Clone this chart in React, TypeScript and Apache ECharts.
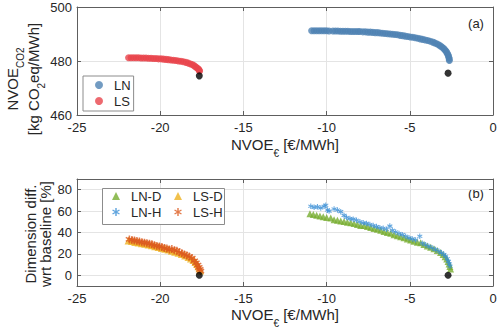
import React, { useEffect, useRef } from 'react';
import * as echarts from 'echarts';

// ---------- data ----------
const xTickStep = 5;
const xRange = [-25, 0];
const yRangeTop = [460, 500];
const yRangeBottom = [-10, 90];

const lnTop: [number, number][] = [
  [-10.9, 491.2], [-10.75, 491.2], [-10.6, 491.2], [-10.45, 491.2], [-10.3, 491.2], [-10.15, 491.2], [-10.0, 491.2], [-9.85, 491.1],
  [-9.62, 491.1], [-9.47, 491.1], [-9.32, 491.1], [-9.17, 491.0], [-9.02, 491.0], [-8.87, 491.0], [-8.72, 491.0], [-8.57, 490.9], [-8.42, 490.9], [-8.27, 490.9], [-8.12, 490.9], [-8.0, 490.9],
  [-7.82, 490.8], [-7.67, 490.8], [-7.52, 490.7], [-7.37, 490.7], [-7.22, 490.6], [-7.07, 490.5], [-6.92, 490.5], [-6.77, 490.4], [-6.62, 490.3], [-6.47, 490.2],
  [-6.32, 490.1], [-6.17, 490.0], [-6.02, 489.9], [-5.87, 489.8], [-5.72, 489.7], [-5.57, 489.5], [-5.42, 489.4], [-5.27, 489.2], [-5.12, 489.1], [-4.97, 488.9],
  [-4.82, 488.8], [-4.67, 488.6], [-4.52, 488.4], [-4.37, 488.2], [-4.22, 488.0], [-4.07, 487.8], [-3.92, 487.6], [-3.77, 487.3], [-3.62, 487.0], [-3.5, 486.7],
  [-3.38, 486.4], [-3.27, 486.0], [-3.17, 485.6], [-3.07, 485.2], [-2.98, 484.7], [-2.9, 484.2], [-2.83, 483.7], [-2.77, 483.1], [-2.72, 482.5], [-2.68, 481.9],
  [-2.65, 481.3], [-2.63, 480.7], [-2.62, 480.2],
];

const lsTop: [number, number][] = [
  [-21.9, 481.2], [-21.75, 481.2], [-21.6, 481.2], [-21.45, 481.2], [-21.3, 481.2], [-21.15, 481.1], [-21.0, 481.1], [-20.85, 481.1], [-20.7, 481.0], [-20.55, 481.0],
  [-20.4, 480.9], [-20.25, 480.9], [-20.1, 480.8], [-19.95, 480.8], [-19.8, 480.7], [-19.65, 480.6], [-19.5, 480.5], [-19.35, 480.4], [-19.2, 480.3], [-19.05, 480.2],
  [-18.9, 480.0], [-18.75, 479.9], [-18.6, 479.7], [-18.45, 479.5], [-18.3, 479.2], [-18.17, 478.9], [-18.05, 478.6], [-17.95, 478.2], [-17.86, 477.8], [-17.78, 477.4],
  [-17.7, 477.0], [-17.66, 476.6], [-17.63, 476.3],
];

const baseTop: [number, number][] = [[-2.7, 475.5], [-17.65, 474.5]];

const lnD: [number, number][] = [
  [-11.0, 57.5], [-10.8, 56.8], [-10.6, 56.2], [-10.4, 55.5], [-10.2, 54.8], [-10.0, 54.0], [-9.75, 53.5], [-9.55, 52.0], [-9.35, 51.4], [-9.15, 50.8],
  [-8.95, 50.2], [-8.75, 49.6], [-8.55, 49.0], [-8.35, 48.3], [-8.15, 47.5], [-7.95, 46.6], [-7.75, 46.5], [-7.55, 45.5], [-7.35, 44.6], [-7.15, 43.8],
  [-6.95, 43.0], [-6.75, 42.0], [-6.55, 41.0], [-6.35, 40.0], [-6.15, 39.2], [-5.95, 38.0], [-5.75, 37.0], [-5.55, 36.0], [-5.35, 35.0], [-5.15, 34.0],
  [-4.95, 33.0], [-4.75, 31.8], [-4.55, 30.8], [-4.35, 30.4], [-4.15, 28.8], [-3.95, 27.5], [-3.75, 26.2], [-3.55, 24.8], [-3.35, 23.2], [-3.15, 21.2],
  [-3.0, 19.5], [-2.88, 17.4], [-2.78, 15.2], [-2.7, 13.0], [-2.64, 10.6], [-2.59, 8.2], [-2.55, 6.0],
];

const lnH: [number, number][] = [
  [-10.95, 64.5], [-10.75, 63.5], [-10.55, 64.0], [-10.35, 63.0], [-10.15, 64.5], [-10.05, 65.5], [-9.95, 61.0], [-9.85, 60.0], [-9.55, 62.0], [-9.35, 61.0],
  [-9.15, 59.5], [-8.95, 56.0], [-8.8, 54.0], [-8.6, 53.0], [-8.4, 52.5], [-8.2, 51.5], [-8.0, 50.0], [-7.8, 49.0], [-7.6, 48.5], [-7.4, 47.5],
  [-7.2, 46.5], [-7.0, 45.5], [-6.8, 44.5], [-6.6, 44.0], [-6.4, 43.0], [-6.2, 46.0], [-6.05, 42.0], [-5.85, 40.5], [-5.65, 39.0], [-5.45, 38.0],
  [-5.25, 36.5], [-5.05, 35.0], [-4.85, 34.0], [-4.65, 33.0], [-4.4, 36.5], [-4.25, 30.0], [-4.05, 28.5], [-3.85, 27.0], [-3.65, 25.5], [-3.45, 24.0],
  [-3.25, 22.5], [-3.1, 21.0], [-2.95, 19.5], [-2.85, 17.8], [-2.75, 15.5], [-2.68, 13.0], [-2.62, 10.5], [-2.58, 8.5],
];

const lsD: [number, number][] = [
  [-21.9, 32.5], [-21.7, 32.0], [-21.5, 31.2], [-21.3, 30.6], [-21.1, 30.0], [-20.9, 29.4], [-20.7, 28.8], [-20.5, 28.0], [-20.3, 27.2], [-20.1, 26.4],
  [-19.9, 25.6], [-19.7, 24.8], [-19.5, 24.0], [-19.3, 23.0], [-19.1, 22.0], [-18.9, 21.0], [-18.7, 19.8], [-18.5, 18.6], [-18.3, 17.2], [-18.15, 15.8],
  [-18.0, 14.2], [-17.88, 12.5], [-17.78, 10.5], [-17.7, 8.5], [-17.64, 6.5], [-17.6, 4.5],
];

const lsH: [number, number][] = [
  [-21.85, 33.5], [-21.7, 33.0], [-21.55, 32.5], [-21.4, 32.0], [-21.25, 31.5], [-21.1, 31.0], [-20.95, 30.5], [-20.8, 30.0], [-20.65, 29.5], [-20.5, 29.0],
  [-20.35, 28.0], [-20.2, 27.5], [-20.05, 27.0], [-19.9, 26.5], [-19.75, 25.5], [-19.6, 25.0], [-19.45, 24.0], [-19.3, 24.5], [-19.15, 23.5], [-19.0, 23.0],
  [-18.85, 21.5], [-18.7, 20.5], [-18.55, 19.5], [-18.4, 18.5], [-18.25, 17.5], [-18.1, 16.0], [-17.95, 13.5], [-17.85, 11.5], [-17.75, 9.5], [-17.68, 7.5],
  [-17.62, 5.5], [-17.58, 4.0],
];

const baseBottom: [number, number][] = [[-2.7, 0], [-17.65, 0]];

// ---------- style ----------
const FONT = '"Liberation Sans", Arial, Helvetica, sans-serif';
const TXT = '#262626';
const AX = '#5e5e5e';
const GRIDC = '#e4e4e4';
const NAME_SIZE = 15;
const ASTER =
  'path://M-1.8,-10L1.8,-10L1.8,10L-1.8,10ZM7.76,-6.56L9.56,-3.44L-7.76,6.56L-9.56,3.44ZM9.56,3.44L7.76,6.56L-9.56,-3.44L-7.76,-6.56Z';

function xAxisDef(gridIndex: number, top: boolean) {
  return {
    type: 'value',
    gridIndex,
    position: top ? 'top' : 'bottom',
    min: xRange[0],
    max: xRange[1],
    interval: xTickStep,
    axisLine: { show: true, onZero: false, lineStyle: { color: AX, width: 1 } },
    axisTick: { show: true, inside: true, length: 4, lineStyle: { color: AX } },
    axisLabel: { show: !top, margin: 6, fontSize: 13, fontFamily: FONT, color: TXT },
    splitLine: { show: !top, lineStyle: { color: GRIDC } },
  };
}

function yAxisDef(gridIndex: number, right: boolean, range: number[], extra: any) {
  const { hideEnds, ...rest } = extra;
  return {
    type: 'value',
    gridIndex,
    position: right ? 'right' : 'left',
    min: range[0],
    max: range[1],
    ...rest,
    axisLine: { show: true, onZero: false, lineStyle: { color: AX, width: 1 } },
    axisTick: { show: true, inside: true, length: 4, lineStyle: { color: AX } },
    axisLabel: {
      show: !right, margin: 5, fontSize: 13, fontFamily: FONT, color: TXT,
      showMinLabel: !hideEnds, showMaxLabel: !hideEnds,
    },
    splitLine: { show: !right, lineStyle: { color: GRIDC } },
  };
}

const legendText = { fontSize: 13, fontFamily: FONT, color: TXT, lineHeight: 14, padding: [0, 0, 0, 6] };

const xName = (y: number) => ({
  type: 'text', x: 285, y,
  style: {
    text: 'NVOE{sub|€} [€/MWh]', fontSize: NAME_SIZE, fontFamily: FONT, fill: TXT, lineHeight: 20,
    align: 'center', verticalAlign: 'middle',
    rich: { sub: { fontSize: 10, fontFamily: FONT, fill: TXT, padding: [18, 0, 0, 0], lineHeight: 20 } },
  },
});

function buildOption() {
  return {
    animation: false,
    backgroundColor: '#fff',
    grid: [
      { left: 77, right: 7, top: 7, height: 108 },
      { left: 77, right: 7, top: 179, height: 107 },
    ],
    xAxis: [xAxisDef(0, false), xAxisDef(0, true), xAxisDef(1, false), xAxisDef(1, true)],
    yAxis: [
      yAxisDef(0, false, yRangeTop, { interval: 20 }),
      yAxisDef(0, true, yRangeTop, { interval: 20 }),
      yAxisDef(1, false, yRangeBottom, { splitNumber: 5, hideEnds: true }),
      yAxisDef(1, true, yRangeBottom, { splitNumber: 5, hideEnds: true }),
    ],
    legend: [
      {
        data: [{ name: 'LN', icon: 'circle' }, { name: 'LS', icon: 'circle' }],
        orient: 'vertical', left: 83, top: 76, padding: [2, 3, 3, 12],
        itemWidth: 8, itemHeight: 8, itemGap: 2,
        backgroundColor: '#fff', borderColor: '#8c8c8c', borderWidth: 1, borderRadius: 0,
        textStyle: legendText, selectedMode: false,
      },
      {
        data: [{ name: 'LN-D', icon: 'triangle' }, { name: 'LN-H', icon: ASTER }],
        orient: 'vertical', left: 112, top: 189, padding: 0,
        itemWidth: 8, itemHeight: 8, itemGap: 2, textStyle: legendText, selectedMode: false,
      },
      {
        data: [{ name: 'LS-D', icon: 'triangle' }, { name: 'LS-H', icon: ASTER }],
        orient: 'vertical', left: 174, top: 189, padding: 0,
        itemWidth: 8, itemHeight: 8, itemGap: 2, textStyle: legendText, selectedMode: false,
      },
    ],
    graphic: [
      { type: 'rect', z: 1, shape: { x: 102.5, y: 188.5, width: 122, height: 36 }, style: { fill: '#fff', stroke: '#8c8c8c', lineWidth: 1 } },
      { type: 'text', x: 476, y: 23, style: { text: '(a)', fontSize: 13, fontFamily: FONT, fill: TXT, align: 'center', verticalAlign: 'middle' } },
      { type: 'text', x: 476, y: 193, style: { text: '(b)', fontSize: 13, fontFamily: FONT, fill: TXT, align: 'center', verticalAlign: 'middle' } },
      xName(144),
      xName(314),
      {
        type: 'text', x: 22.5, y: 79, rotation: Math.PI / 2,
        style: {
          text: 'NVOE{sub|CO2}\n[kg CO{sub|2}eq/MWh]', fontSize: NAME_SIZE, fontFamily: FONT, fill: TXT, lineHeight: 21,
          align: 'center', verticalAlign: 'middle',
          rich: { sub: { fontSize: 10, fontFamily: FONT, fill: TXT, padding: [16, 0, 0, 0], lineHeight: 21 } },
        },
      },
      {
        type: 'text', x: 38, y: 234, rotation: Math.PI / 2,
        style: {
          text: 'Dimension diff.\nwrt baseline [%]', fontSize: NAME_SIZE, fontFamily: FONT, fill: TXT, lineHeight: 15,
          align: 'center', verticalAlign: 'middle',
        },
      },
    ],
    series: [
      { type: 'scatter', name: 'LN', xAxisIndex: 0, yAxisIndex: 0, data: lnTop, symbol: 'circle', symbolSize: 7, itemStyle: { color: '#4f82b3' }, z: 2 },
      { type: 'scatter', name: 'LS', xAxisIndex: 0, yAxisIndex: 0, data: lsTop, symbol: 'circle', symbolSize: 7, itemStyle: { color: '#e8434b' }, z: 2 },
      { type: 'scatter', name: 'baseTop', xAxisIndex: 0, yAxisIndex: 0, data: baseTop, symbol: 'circle', symbolSize: 7, itemStyle: { color: '#000' }, z: 3 },
      { type: 'scatter', name: 'LN-D', xAxisIndex: 2, yAxisIndex: 2, data: lnD, symbol: 'triangle', symbolSize: 7, itemStyle: { color: '#77ac30' }, z: 2 },
      { type: 'scatter', name: 'LN-H', xAxisIndex: 2, yAxisIndex: 2, data: lnH, symbol: ASTER, symbolSize: 5.5, itemStyle: { color: '#3a8fd6' }, z: 2 },
      { type: 'scatter', name: 'LS-D', xAxisIndex: 2, yAxisIndex: 2, data: lsD, symbol: 'triangle', symbolSize: 8, itemStyle: { color: '#edb120' }, z: 2 },
      { type: 'scatter', name: 'LS-H', xAxisIndex: 2, yAxisIndex: 2, data: lsH, symbol: ASTER, symbolSize: 8, itemStyle: { color: '#dc5a1e' }, z: 2 },
      { type: 'scatter', name: 'baseBottom', xAxisIndex: 2, yAxisIndex: 2, data: baseBottom, symbol: 'circle', symbolSize: 7, itemStyle: { color: '#000' }, z: 3 },
    ],
  };
}

export default function App() {
  const ref = useRef<HTMLDivElement>(null);
  useEffect(() => {
    document.body.style.margin = '0';
    if (!ref.current) return;
    const chart = echarts.init(ref.current, null, { renderer: 'svg' });
    chart.setOption(buildOption() as any);
    return () => chart.dispose();
  }, []);
  return <div ref={ref} style={{ width: 500, height: 332 }} />;
}
